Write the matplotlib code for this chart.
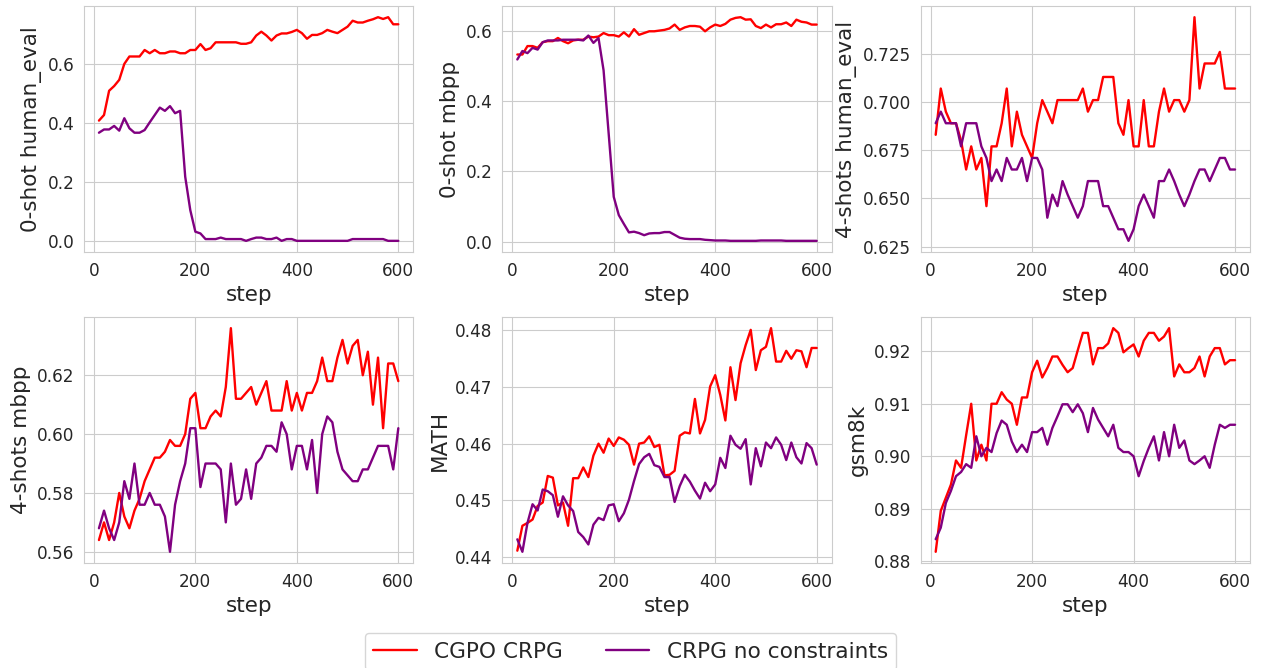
import numpy as np
import matplotlib
matplotlib.use("Agg")
import matplotlib.pyplot as plt
import seaborn as sns

sns.set_style("whitegrid")

steps = np.arange(10, 610, 10)

# 0-shot human_eval
he0_cgpo = [0.407, 0.426, 0.508, 0.524, 0.545, 0.599, 0.624, 0.624, 0.624, 0.646,
            0.635, 0.646, 0.635, 0.635, 0.641, 0.641, 0.635, 0.635, 0.646, 0.646,
            0.666, 0.646, 0.652, 0.672, 0.672, 0.672, 0.672, 0.672, 0.667, 0.667,
            0.672, 0.695, 0.708, 0.695, 0.678, 0.695, 0.702, 0.702, 0.707, 0.714,
            0.703, 0.684, 0.697, 0.697, 0.703, 0.714, 0.708, 0.703, 0.714, 0.725,
            0.745, 0.739, 0.739, 0.745, 0.750, 0.757, 0.751, 0.757, 0.733, 0.733]
he0_crpg = [0.366, 0.377, 0.377, 0.389, 0.373, 0.415, 0.381, 0.366, 0.366, 0.375,
            0.401, 0.426, 0.451, 0.440, 0.456, 0.432, 0.440, 0.217, 0.104, 0.031,
            0.025, 0.006, 0.006, 0.006, 0.011, 0.006, 0.006, 0.006, 0.006, 0.000,
            0.006, 0.011, 0.011, 0.006, 0.006, 0.011, 0.000, 0.006, 0.006, 0.000,
            0.000, 0.000, 0.000, 0.000, 0.000, 0.000, 0.000, 0.000, 0.000, 0.000,
            0.006, 0.006, 0.006, 0.006, 0.006, 0.006, 0.006, 0.000, 0.000, 0.000]

# 0-shot mbpp
mb0_cgpo = [0.532, 0.532, 0.556, 0.556, 0.551, 0.567, 0.570, 0.570, 0.579, 0.570,
            0.564, 0.572, 0.574, 0.574, 0.583, 0.581, 0.583, 0.593, 0.587, 0.587,
            0.583, 0.595, 0.583, 0.604, 0.588, 0.593, 0.598, 0.598, 0.600, 0.602,
            0.606, 0.617, 0.602, 0.609, 0.613, 0.613, 0.611, 0.598, 0.609, 0.617,
            0.613, 0.619, 0.631, 0.636, 0.638, 0.631, 0.632, 0.613, 0.607, 0.617,
            0.609, 0.618, 0.618, 0.623, 0.613, 0.631, 0.625, 0.623, 0.617, 0.617]
mb0_crpg = [0.518, 0.542, 0.536, 0.551, 0.546, 0.567, 0.572, 0.572, 0.572, 0.574,
            0.574, 0.574, 0.574, 0.572, 0.586, 0.565, 0.579, 0.487, 0.308, 0.128,
            0.076, 0.051, 0.027, 0.029, 0.025, 0.019, 0.024, 0.025, 0.025, 0.028,
            0.028, 0.020, 0.012, 0.009, 0.008, 0.008, 0.008, 0.006, 0.005, 0.004,
            0.004, 0.004, 0.003, 0.003, 0.003, 0.003, 0.003, 0.003, 0.004, 0.004,
            0.004, 0.004, 0.004, 0.003, 0.003, 0.003, 0.003, 0.003, 0.003, 0.003]

# 4-shots human_eval
he4_cgpo = [0.683, 0.707, 0.695, 0.689, 0.689, 0.680, 0.665, 0.677, 0.665, 0.671,
            0.646, 0.677, 0.677, 0.689, 0.707, 0.677, 0.695, 0.683, 0.677, 0.671,
            0.689, 0.701, 0.695, 0.689, 0.701, 0.701, 0.701, 0.701, 0.701, 0.707,
            0.695, 0.701, 0.701, 0.713, 0.713, 0.713, 0.689, 0.683, 0.701, 0.677,
            0.677, 0.701, 0.677, 0.677, 0.695, 0.707, 0.695, 0.701, 0.701, 0.695,
            0.701, 0.744, 0.707, 0.720, 0.720, 0.720, 0.726, 0.707, 0.707, 0.707]
he4_crpg = [0.689, 0.695, 0.689, 0.689, 0.689, 0.677, 0.689, 0.689, 0.689, 0.677,
            0.671, 0.659, 0.665, 0.659, 0.671, 0.665, 0.665, 0.671, 0.659, 0.671,
            0.671, 0.665, 0.640, 0.652, 0.646, 0.659, 0.652, 0.646, 0.640, 0.646,
            0.659, 0.659, 0.659, 0.646, 0.646, 0.640, 0.634, 0.634, 0.628, 0.634,
            0.646, 0.652, 0.646, 0.640, 0.659, 0.659, 0.665, 0.659, 0.652, 0.646,
            0.652, 0.659, 0.665, 0.665, 0.659, 0.665, 0.671, 0.671, 0.665, 0.665]

# 4-shots mbpp
mb4_cgpo = [0.564, 0.570, 0.564, 0.570, 0.580, 0.572, 0.568, 0.574, 0.578, 0.584,
            0.588, 0.592, 0.592, 0.594, 0.598, 0.596, 0.596, 0.600, 0.612, 0.614,
            0.602, 0.602, 0.606, 0.608, 0.606, 0.616, 0.636, 0.612, 0.612, 0.614,
            0.616, 0.610, 0.614, 0.618, 0.608, 0.608, 0.608, 0.618, 0.608, 0.614,
            0.608, 0.614, 0.614, 0.618, 0.626, 0.618, 0.618, 0.626, 0.632, 0.624,
            0.630, 0.632, 0.620, 0.628, 0.610, 0.626, 0.602, 0.624, 0.624, 0.618]
mb4_crpg = [0.568, 0.574, 0.568, 0.564, 0.570, 0.584, 0.578, 0.590, 0.576, 0.576,
            0.580, 0.576, 0.576, 0.572, 0.560, 0.576, 0.584, 0.590, 0.602, 0.602,
            0.582, 0.590, 0.590, 0.590, 0.588, 0.570, 0.590, 0.576, 0.578, 0.588,
            0.578, 0.590, 0.592, 0.596, 0.596, 0.594, 0.604, 0.600, 0.588, 0.596,
            0.596, 0.588, 0.598, 0.580, 0.600, 0.606, 0.604, 0.594, 0.588, 0.586,
            0.584, 0.584, 0.588, 0.588, 0.592, 0.596, 0.596, 0.596, 0.588, 0.602]

# MATH
math_cgpo = [0.4411, 0.4455, 0.4460, 0.4466, 0.4490, 0.4496, 0.4543, 0.4540, 0.4491, 0.4496,
             0.4455, 0.4539, 0.4539, 0.4558, 0.4541, 0.4579, 0.4600, 0.4584, 0.4609, 0.4596,
             0.4611, 0.4607, 0.4598, 0.4563, 0.4600, 0.4602, 0.4613, 0.4594, 0.4598, 0.4544,
             0.4545, 0.4552, 0.4614, 0.4620, 0.4618, 0.4679, 0.4618, 0.4642, 0.4701, 0.4721,
             0.4686, 0.4641, 0.4735, 0.4677, 0.4742, 0.4774, 0.4801, 0.4730, 0.4765, 0.4771,
             0.4804, 0.4745, 0.4745, 0.4764, 0.4750, 0.4765, 0.4763, 0.4735, 0.4769, 0.4769]
math_crpg = [0.4431, 0.4409, 0.4460, 0.4493, 0.4482, 0.4519, 0.4516, 0.4509, 0.4471, 0.4507,
             0.4491, 0.4481, 0.4444, 0.4435, 0.4422, 0.4457, 0.4469, 0.4465, 0.4491, 0.4493,
             0.4463, 0.4477, 0.4501, 0.4534, 0.4564, 0.4576, 0.4582, 0.4562, 0.4559, 0.4541,
             0.4541, 0.4497, 0.4525, 0.4545, 0.4533, 0.4517, 0.4503, 0.4531, 0.4516, 0.4528,
             0.4575, 0.4557, 0.4614, 0.4598, 0.4591, 0.4608, 0.4528, 0.4592, 0.4560, 0.4602,
             0.4592, 0.4611, 0.4598, 0.4571, 0.4602, 0.4576, 0.4565, 0.4601, 0.4592, 0.4563]

# gsm8k
gsm_cgpo = [0.8818, 0.8896, 0.8921, 0.8946, 0.8992, 0.8978, 0.9040, 0.9100, 0.8992, 0.9022,
            0.8992, 0.9100, 0.9100, 0.9122, 0.9108, 0.9100, 0.9060, 0.9112, 0.9112, 0.9160,
            0.9182, 0.9150, 0.9168, 0.9190, 0.9190, 0.9174, 0.9160, 0.9168, 0.9202, 0.9235,
            0.9235, 0.9175, 0.9206, 0.9206, 0.9215, 0.9244, 0.9235, 0.9198, 0.9206, 0.9213,
            0.9190, 0.9220, 0.9235, 0.9235, 0.9220, 0.9228, 0.9244, 0.9152, 0.9175, 0.9160,
            0.9160, 0.9168, 0.9190, 0.9152, 0.9190, 0.9206, 0.9206, 0.9175, 0.9183, 0.9183]
gsm_crpg = [0.8842, 0.8864, 0.8911, 0.8934, 0.8962, 0.8970, 0.8985, 0.8978, 0.9038, 0.9000,
            0.9016, 0.9008, 0.9044, 0.9068, 0.9060, 0.9028, 0.9008, 0.9022, 0.9008, 0.9046,
            0.9046, 0.9054, 0.9022, 0.9054, 0.9076, 0.9099, 0.9099, 0.9084, 0.9099, 0.9082,
            0.9046, 0.9092, 0.9070, 0.9054, 0.9038, 0.9060, 0.9016, 0.9008, 0.9008, 0.9000,
            0.8962, 0.8991, 0.9016, 0.9038, 0.8992, 0.9046, 0.9000, 0.9060, 0.9016, 0.9030,
            0.8992, 0.8985, 0.8992, 0.9000, 0.8978, 0.9022, 0.9060, 0.9054, 0.9060, 0.9060]

names = ["0-shot human_eval", "0-shot mbpp", "4-shots human_eval",
         "4-shots mbpp", "MATH", "gsm8k"]
yticks = [[0.0, 0.2, 0.4, 0.6],
          [0.0, 0.2, 0.4, 0.6],
          [0.625, 0.650, 0.675, 0.700, 0.725],
          [0.56, 0.58, 0.60, 0.62],
          [0.44, 0.45, 0.46, 0.47, 0.48],
          [0.88, 0.89, 0.90, 0.91, 0.92]]
cgpo = [he0_cgpo, mb0_cgpo, he4_cgpo, mb4_cgpo, math_cgpo, gsm_cgpo]
crpg = [he0_crpg, mb0_crpg, he4_crpg, mb4_crpg, math_crpg, gsm_crpg]

fig, axes = plt.subplots(2, 3, figsize=(12.61, 6.68), dpi=100)
fig.subplots_adjust(left=0.0666, right=0.9913, top=0.991, bottom=0.1572,
                    wspace=0.2705, hspace=0.264)

#una grafica por metrica
for ax, name, a, b, yt in zip(axes.flat, names, cgpo, crpg, yticks):
    ax.plot(steps, a, color="red", lw=1.7, label="CGPO CRPG")
    ax.plot(steps, b, color="purple", lw=1.7, label="CRPG no constraints")
    ax.set_xticks([0, 200, 400, 600])
    ax.set_yticks(yt)
    ax.set_xlabel("step", fontsize=15.5)
    ax.set_ylabel(name, fontsize=15.5)
    ax.tick_params(labelsize=12.2)

handles, labels = axes[0, 0].get_legend_handles_labels()
fig.legend(handles, labels, loc="upper center", ncol=2, fontsize=15.6,
           bbox_to_anchor=(0.5, 0.0524), borderaxespad=0, frameon=True)

fig.savefig("out.png", dpi=100)
